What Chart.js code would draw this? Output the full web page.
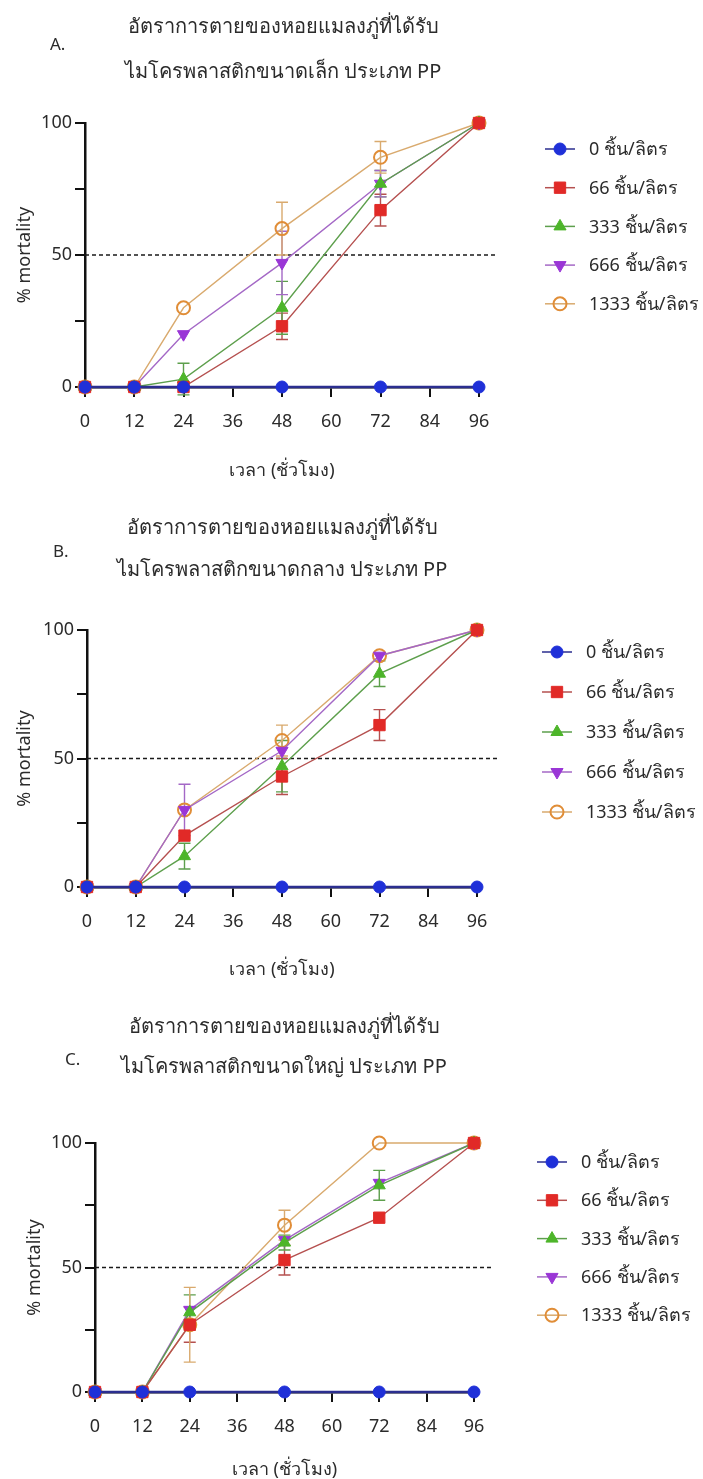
<!DOCTYPE html>
<html>
<head>
<meta charset="utf-8">
<script src="https://cdn.jsdelivr.net/npm/chart.js@4/dist/chart.umd.min.js"></script>
<style>
  html, body { margin: 0; padding: 0; background: #fff; }
  .panel { position: absolute; left: 0; width: 703px; }
  canvas { display: block; }
</style>
</head>
<body>
<div class="panel" style="top:0"><canvas id="chartA" width="703" height="490"></canvas></div>
<div class="panel" style="top:490px"><canvas id="chartB" width="703" height="495"></canvas></div>
<div class="panel" style="top:985px"><canvas id="chartC" width="703" height="494"></canvas></div>
<script>
// time points (hours) and legend names
const hours = [0, 12, 24, 48, 72, 96];
const seriesNames = ["0 ชิ้น/ลิตร", "66 ชิ้น/ลิตร", "333 ชิ้น/ลิตร", "666 ชิ้น/ลิตร", "1333 ชิ้น/ลิตร"];
const yTickLabels = [0, 50, 100];

const titleLine1 = "อัตราการตายของหอยแมลงภู่ที่ได้รับ";
const titlesLine2 = ["ไมโครพลาสติกขนาดเล็ก ประเภท PP", "ไมโครพลาสติกขนาดกลาง ประเภท PP", "ไมโครพลาสติกขนาดใหญ่ ประเภท PP"];

// A. small PP (% mortality)
const smallPP0 = [0, 0, 0, 0, 0, 0];
const smallPP66 = [0, 0, 0, 23, 67, 100];
const smallPP333 = [0, 0, 3, 30, 77, 100];
const smallPP666 = [0, 0, 20, 47, 77, 100];
const smallPP1333 = [0, 0, 30, 60, 87, 100];
const smallErr66 = [0, 0, 0, 5, 6, 0];
const smallErr333 = [0, 0, 6, 10, 5, 0];
const smallErr666 = [0, 0, 0, 12, 5, 0];
const smallErr1333 = [0, 0, 0, 10, 6, 0];

// B. medium PP
const mediumPP0 = [0, 0, 0, 0, 0, 0];
const mediumPP66 = [0, 0, 20, 43, 63, 100];
const mediumPP333 = [0, 0, 12, 47, 83, 100];
const mediumPP666 = [0, 0, 30, 53, 90, 100];
const mediumPP1333 = [0, 0, 30, 57, 90, 100];
const mediumErr66 = [0, 0, 0, 7, 6, 0];
const mediumErr333 = [0, 0, 5, 10, 5, 0];
const mediumErr666 = [0, 0, 10, 0, 0, 0];
const mediumErr1333 = [0, 0, 0, 6, 0, 0];

// C. large PP
const largePP0 = [0, 0, 0, 0, 0, 0];
const largePP66 = [0, 0, 27, 53, 70, 100];
const largePP333 = [0, 0, 32, 60, 83, 100];
const largePP666 = [0, 0, 33, 61, 84, 100];
const largePP1333 = [0, 0, 27, 67, 100, 100];
const largeErr66 = [0, 0, 7, 6, 0, 0];
const largeErr333 = [0, 0, 7, 3, 6, 0];
const largeErr666 = [0, 0, 0, 0, 0, 0];
const largeErr1333 = [0, 0, 15, 6, 0, 0];

const noErr = [0, 0, 0, 0, 0, 0];

// styles
const FONT = '"Noto Sans", "Open Sans", sans-serif';
const TEXT = '#2b2b2b';
const lineColors = ['#2b2e8f', '#b5504f', '#5d9f4c', '#a468c6', '#d9aa6e'];
const markerFills = ['#1f30d8', '#e12a27', '#4db52a', '#9a36d6', 'rgba(0,0,0,0)'];
const markerEdges = ['#1f30d8', '#e12a27', '#4db52a', '#9a36d6', '#e08d37'];
const markerStyles = ['circle', 'rect', 'triangle', 'triangle', 'circle'];
const markerRotation = [0, 0, 0, 180, 0];
const markerRadius = [6, 8, 7, 7, 6.5];

function drawMarker(ctx, i, x, y) {
    const h = Chart.helpers;
    ctx.save();
    ctx.fillStyle = markerFills[i];
    ctx.strokeStyle = markerEdges[i];
    ctx.lineWidth = i === 4 ? 2 : 1;
    if (h && h.drawPoint) {
        h.drawPoint(ctx, { pointStyle: markerStyles[i], rotation: markerRotation[i], radius: markerRadius[i], borderWidth: ctx.lineWidth }, x, y);
    } else {
        ctx.beginPath();
        ctx.arc(x, y, markerRadius[i], 0, Math.PI * 2);
        ctx.fill();
        ctx.stroke();
    }
    ctx.restore();
}

const panelDecor = {
    id: 'panelDecor',
    beforeDatasetsDraw(chart, args, opts) {
        const { ctx, chartArea, scales: { x, y } } = chart;

        // dashed 50% line
        const y50 = y.getPixelForValue(50);
        ctx.save();
        ctx.setLineDash([4, 3]);
        ctx.lineWidth = 1.5;
        ctx.strokeStyle = '#1a1a1a';
        ctx.beginPath();
        ctx.moveTo(chartArea.left, y50);
        ctx.lineTo(chartArea.right + opts.dashExtra, y50);
        ctx.stroke();
        ctx.restore();

        // error bars
        chart.data.datasets.forEach(function (ds, i) {
            ds.data.forEach(function (pt, k) {
                const e = ds.errors[k];
                if (!e) {
                    return;
                }
                const px = x.getPixelForValue(pt.x);
                const top = y.getPixelForValue(pt.y + e);
                const bottom = y.getPixelForValue(pt.y - e);
                ctx.save();
                ctx.strokeStyle = ds.borderColor;
                ctx.lineWidth = 1.4;
                ctx.beginPath();
                ctx.moveTo(px, top);
                ctx.lineTo(px, bottom);
                ctx.moveTo(px - 6, top);
                ctx.lineTo(px + 6, top);
                ctx.moveTo(px - 6, bottom);
                ctx.lineTo(px + 6, bottom);
                ctx.stroke();
                ctx.restore();
            });
        });
    },
    afterDraw(chart, args, opts) {
        const ctx = chart.ctx;
        ctx.save();
        ctx.fillStyle = TEXT;
        ctx.textBaseline = 'middle';

        // title
        ctx.textAlign = 'center';
        ctx.font = '20px ' + FONT;
        ctx.fillText(titleLine1, opts.titleX, opts.titleY1);
        ctx.fillText(opts.title2, opts.titleX, opts.titleY2);

        // panel letter
        ctx.textAlign = 'left';
        ctx.font = '17px ' + FONT;
        ctx.fillText(opts.letter, opts.letterX, opts.letterY);

        // legend
        ctx.font = '18px ' + FONT;
        chart.data.datasets.forEach(function (ds, i) {
            const ly = opts.legendTop + i * opts.legendGap;
            ctx.strokeStyle = ds.borderColor;
            ctx.lineWidth = 1.5;
            ctx.beginPath();
            ctx.moveTo(opts.legendX, ly);
            ctx.lineTo(opts.legendX + 30, ly);
            ctx.stroke();
            drawMarker(ctx, i, opts.legendX + 15, ly);
            ctx.fillStyle = TEXT;
            ctx.fillText(ds.label, opts.legendX + 44, ly + 1);
        });
        ctx.restore();
    }
};

function buildChart(canvasId, values, errors, layout) {
    const datasets = seriesNames.map(function (name, i) {
        return {
            label: name,
            data: hours.map(function (h, k) { return { x: h, y: values[i][k] }; }),
            errors: errors[i],
            borderColor: lineColors[i],
            borderWidth: i === 0 ? 2.6 : 1.4,
            pointStyle: markerStyles[i],
            pointRotation: markerRotation[i],
            pointRadius: markerRadius[i],
            pointHoverRadius: markerRadius[i],
            pointBackgroundColor: markerFills[i],
            pointBorderColor: markerEdges[i],
            pointBorderWidth: i === 4 ? 2 : 1,
            clip: false,
            tension: 0
        };
    });

    return new Chart(document.getElementById(canvasId), {
        type: 'line',
        data: { datasets: datasets },
        options: {
            responsive: false,
            animation: false,
            layout: { padding: { top: layout.top, right: layout.right, bottom: 0, left: 0 } },
            plugins: {
                legend: { display: false },
                tooltip: { enabled: false },
                panelDecor: layout.decor
            },
            scales: {
                x: {
                    type: 'linear',
                    min: 0,
                    max: 96,
                    afterFit: function (scale) { scale.height = layout.xHeight; },
                    ticks: { stepSize: 12, padding: 14, color: TEXT, font: { family: FONT, size: 18 } },
                    grid: { drawOnChartArea: false, drawTicks: true, tickLength: 10, color: '#111', lineWidth: 2 },
                    border: { display: true, color: '#111', width: 2.5 },
                    title: {
                        display: true,
                        text: 'เวลา (ชั่วโมง)',
                        color: TEXT,
                        font: { family: FONT, size: 18, lineHeight: 1 },
                        padding: { top: 0, bottom: layout.xTitlePad }
                    }
                },
                y: {
                    min: 0,
                    max: 100,
                    afterFit: function (scale) { scale.width = layout.yWidth; },
                    ticks: {
                        stepSize: 25,
                        padding: 3,
                        color: TEXT,
                        font: { family: FONT, size: 18 },
                        callback: function (v) { return yTickLabels.indexOf(v) >= 0 ? String(v) : ''; }
                    },
                    grid: { drawOnChartArea: false, drawTicks: true, tickLength: 10, color: '#111', lineWidth: 2 },
                    border: { display: true, color: '#111', width: 2.5 },
                    title: {
                        display: true,
                        text: '% mortality',
                        color: TEXT,
                        font: { family: FONT, size: 18, lineHeight: 1 },
                        padding: { top: layout.yTitlePad, bottom: 0 }
                    }
                }
            }
        },
        plugins: [panelDecor]
    });
}

buildChart('chartA',
    [smallPP0, smallPP66, smallPP333, smallPP666, smallPP1333],
    [noErr, smallErr66, smallErr333, smallErr666, smallErr1333],
    {
        top: 123, right: 224, yWidth: 85, xHeight: 103, xTitlePad: 10, yTitlePad: 16,
        decor: {
            title2: titlesLine2[0], titleX: 283, titleY1: 27, titleY2: 72,
            letter: 'A.', letterX: 50, letterY: 45,
            legendX: 545, legendTop: 149, legendGap: 38.7, dashExtra: 19
        }
    });

buildChart('chartB',
    [mediumPP0, mediumPP66, mediumPP333, mediumPP666, mediumPP1333],
    [noErr, mediumErr66, mediumErr333, mediumErr666, mediumErr1333],
    {
        top: 140, right: 226, yWidth: 87, xHeight: 98, xTitlePad: 6, yTitlePad: 16,
        decor: {
            title2: titlesLine2[1], titleX: 282, titleY1: 38, titleY2: 80,
            letter: 'B.', letterX: 53, letterY: 62,
            legendX: 542, legendTop: 162, legendGap: 40, dashExtra: 20
        }
    });

buildChart('chartC',
    [largePP0, largePP66, largePP333, largePP666, largePP1333],
    [noErr, largeErr66, largeErr333, largeErr666, largeErr1333],
    {
        top: 158, right: 229, yWidth: 95, xHeight: 87, xTitlePad: 0, yTitlePad: 26,
        decor: {
            title2: titlesLine2[2], titleX: 284, titleY1: 42, titleY2: 82,
            letter: 'C.', letterX: 65, letterY: 75,
            legendX: 537, legendTop: 177, legendGap: 38.3, dashExtra: 18
        }
    });
</script>
</body>
</html>
